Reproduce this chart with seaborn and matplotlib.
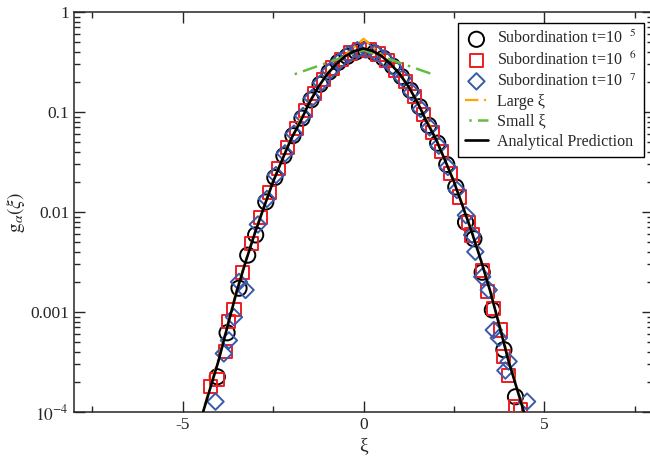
import matplotlib
matplotlib.use('Agg')
import matplotlib.pyplot as plt
import matplotlib.ticker as ticker
import seaborn as sns

sns.set_style('ticks')
plt.rcParams['font.family'] = ['Liberation Serif', 'DejaVu Serif']
plt.rcParams['mathtext.fontset'] = 'stix'
plt.rcParams['axes.unicode_minus'] = False

# analytical prediction
xi_curve = [-4.5, -4.25, -4.0, -3.75, -3.5, -3.25, -3.0, -2.75, -2.5, -2.25, -2.0, -1.75, -1.5,
            -1.25, -1.0, -0.75, -0.5, -0.25, 0.0, 0.25, 0.5, 0.75, 1.0, 1.25, 1.5, 1.75, 2.0,
            2.25, 2.5, 2.75, 3.0, 3.25, 3.5, 3.75, 4.0, 4.25, 4.5]
g_curve = [8.32e-5, 1.66e-4, 3.31e-4, 7.41e-4, 1.62e-3, 3.24e-3, 6.17e-3, 0.0112, 0.0200, 0.0331,
           0.0537, 0.0794, 0.123, 0.178, 0.240, 0.302, 0.363, 0.407, 0.4315, 0.407, 0.363, 0.302,
           0.240, 0.178, 0.123, 0.0794, 0.0537, 0.0331, 0.0200, 0.0112, 6.17e-3, 3.24e-3, 1.62e-3,
           7.41e-4, 3.31e-4, 1.66e-4, 8.32e-5]

# subordination t=10^5
xi_c = [-4.04, -3.77, -3.44, -3.2, -2.98, -2.7, -2.45, -2.2, -1.95, -1.7, -1.45, -1.2, -0.95, -0.7,
        -0.45, -0.2, 0.05, 0.3, 0.55, 0.8, 1.05, 1.3, 1.55, 1.8, 2.05, 2.3, 2.55, 2.82, 3.05, 3.28,
        3.56, 3.88, 4.2]
g_c = [2.25e-4, 6.2e-4, 1.73e-3, 3.7e-3, 5.9e-3, 0.0126, 0.0221, 0.0365, 0.058, 0.0867, 0.132, 0.189,
       0.251, 0.313, 0.36, 0.40, 0.42, 0.39, 0.345, 0.288, 0.226, 0.165, 0.113, 0.0735, 0.0488,
       0.0299, 0.0178, 7.9e-3, 5.4e-3, 2.5e-3, 1.05e-3, 4.2e-4, 1.42e-4]

# subordination t=10^6
xi_s = [-4.23, -4.05, -3.81, -3.72, -3.58, -3.35, -3.1, -2.85, -2.6, -2.35, -2.1, -1.85, -1.6, -1.35,
        -1.1, -0.85, -0.6, -0.35, -0.1, 0.15, 0.4, 0.65, 0.9, 1.15, 1.4, 1.65, 1.9, 2.15, 2.4, 2.65,
        2.9, 3.0, 3.28, 3.42, 3.6, 3.78, 3.88, 4.01, 4.2, 4.34]
g_s = [1.8e-4, 2.1e-4, 4.0e-4, 8.0e-4, 1.05e-3, 2.5e-3, 4.8e-3, 8.8e-3, 0.0158, 0.027, 0.0443, 0.068,
       0.103, 0.153, 0.213, 0.275, 0.337, 0.389, 0.422, 0.417, 0.380, 0.325, 0.263, 0.200, 0.143,
       0.0946, 0.0628, 0.0402, 0.0244, 0.0141, 7.8e-3, 5.9e-3, 2.6e-3, 1.6e-3, 1.09e-3, 6.6e-4,
       3.6e-4, 2.3e-4, 1.13e-4, 1.05e-4]

# subordination t=10^7
xi_d = [-4.09, -3.86, -3.72, -3.58, -3.44, -3.26, -2.92, -2.67, -2.42, -2.17, -1.92, -1.67, -1.42,
        -1.17, -0.92, -0.67, -0.42, -0.17, 0.08, 0.33, 0.58, 0.83, 1.08, 1.33, 1.58, 1.83, 2.08,
        2.33, 2.58, 2.83, 3.0, 3.09, 3.28, 3.46, 3.6, 3.74, 3.92, 4.01, 4.52]
g_d = [1.27e-4, 3.85e-4, 5.2e-4, 8.9e-4, 2.0e-3, 1.66e-3, 7.5e-3, 0.0135, 0.0234, 0.0386, 0.0608,
       0.0914, 0.138, 0.196, 0.258, 0.321, 0.377, 0.415, 0.424, 0.393, 0.342, 0.281, 0.218, 0.158,
       0.107, 0.0702, 0.046, 0.0282, 0.0166, 9.3e-3, 5.9e-3, 4.0e-3, 2.25e-3, 1.66e-3, 6.6e-4,
       5.5e-4, 2.6e-4, 3.2e-4, 1.27e-4]

# asymptotes
xi_large = [-4.6, -4.0, -3.5, -3.0, -2.5, -2.0, -1.5, -1.0, -0.5, 0.0, 0.5, 1.0, 1.5, 2.0, 2.5, 3.0,
            3.5, 4.0, 4.6]
g_large = [6.5e-5, 3.5e-4, 1.7e-3, 6.4e-3, 0.0205, 0.055, 0.126, 0.245, 0.372, 0.54, 0.372, 0.245,
           0.126, 0.055, 0.0205, 6.4e-3, 1.7e-3, 3.5e-4, 6.5e-5]
xi_small = [-2.0, 0.0, 2.0]
g_small = [0.232, 0.417, 0.232]

fig = plt.figure(figsize=(6.5, 4.57), dpi=100)
ax = fig.add_axes([74 / 650, 45 / 457, 579 / 650, 400 / 457])
ax.set_yscale('log')

sns.scatterplot(x=xi_c, y=g_c, ax=ax, marker='o', s=120, facecolor='none', edgecolor='black',
                linewidth=1.4, label='Subordination t=10  $^{5}$', zorder=3)
sns.scatterplot(x=xi_s, y=g_s, ax=ax, marker='s', s=90, facecolor='none', edgecolor='#ee1c24',
                linewidth=1.4, label='Subordination t=10  $^{6}$', zorder=3)
sns.scatterplot(x=xi_d, y=g_d, ax=ax, marker='D', s=70, facecolor='none', edgecolor='#3a59ab',
                linewidth=1.4, label='Subordination t=10  $^{7}$', zorder=3)
sns.lineplot(x=xi_large, y=g_large, ax=ax, color='#ffa500', lw=1.6,
             linestyle=(0, (6, 2.5, 1, 2.5)), label='Large ξ', zorder=4)
sns.lineplot(x=xi_small, y=g_small, ax=ax, color='#66bb44', lw=1.8,
             linestyle=(7, (6, 2.5, 1, 2.5)), label='Small ξ', zorder=4)
sns.lineplot(x=xi_curve, y=g_curve, ax=ax, color='black', lw=1.9,
             label='Analytical Prediction', zorder=5)

ax.set_xlim(-8, 8)
ax.set_ylim(1e-4, 1)
ax.set_xticks([-5, 0, 5])
ax.set_xticklabels(['-5', '0', '5'])
ax.xaxis.set_minor_locator(ticker.MultipleLocator(2.5))
ax.set_yticks([1e-4, 1e-3, 1e-2, 0.1, 1])
ax.set_yticklabels(['$10^{-4}$', '0.001', '0.01', '0.1', '1'])
ax.yaxis.set_minor_locator(ticker.LogLocator(base=10, subs=range(2, 10)))
ax.yaxis.set_minor_formatter(ticker.NullFormatter())
ax.tick_params(which='both', direction='in', top=True, right=True, width=1.0, labelsize=12.5)
ax.tick_params(which='major', length=8)
ax.tick_params(which='minor', length=4.5)
for sp in ax.spines.values():
    sp.set_linewidth(1.1)

ax.set_xlabel('ξ', fontsize=14, labelpad=3)
ax.set_ylabel(r'$\mathrm{g}_{\alpha}(\xi)$', fontsize=14, labelpad=2)

leg = ax.legend(loc='upper right', bbox_to_anchor=(644 / 650, 1 - 23 / 457),
                bbox_transform=fig.transFigure, fontsize=11.5, frameon=True, fancybox=False,
                edgecolor='black', framealpha=1, borderaxespad=0, handlelength=1.4,
                labelspacing=0.25, handletextpad=0.6, borderpad=0.45)
leg.get_frame().set_linewidth(1.0)

fig.savefig('out.png', dpi=100)
